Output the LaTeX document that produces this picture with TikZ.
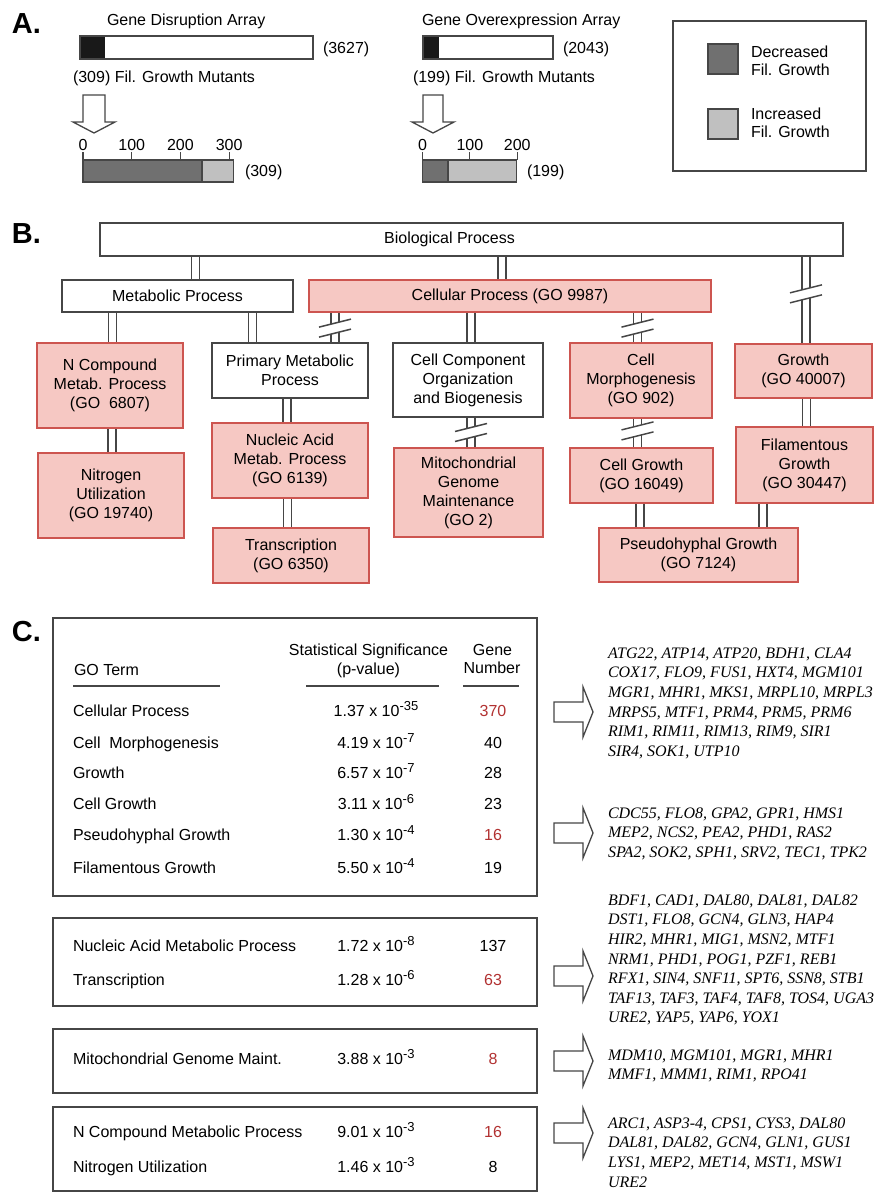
\documentclass[tikz,border=0pt]{standalone}
\usepackage{fontspec}
\setmainfont{Liberation Sans}
\newfontfamily\genefont{Liberation Serif}
\usetikzlibrary{calc,backgrounds}
\definecolor{pinkfill}{RGB}{246,200,195}
\definecolor{pinkline}{RGB}{205,85,80}
\definecolor{boxline}{RGB}{70,70,70}
\definecolor{darkbar}{RGB}{112,112,112}
\definecolor{lightbar}{RGB}{192,192,192}
\definecolor{rednum}{RGB}{178,50,50}
\definecolor{blackbar}{RGB}{25,25,25}
\newcommand\mysup[1]{\raisebox{6pt}{\fontsize{13}{13}\selectfont #1}}
\newcommand\golink[4]{%
  \coordinate (#4b) at ([xshift=#2]#1.north);
  \coordinate (#4t) at (#4b |- #3.south);
  \draw[dbl] (#4b) -- (#4t);}
\newcommand\gobreak[2]{\pic at ($(#1t)!#2!(#1b)$) {brk};}
\begin{document}
\begin{tikzpicture}[x=1pt,y=-1pt,
  every node/.style={inner sep=0pt, outer sep=0pt},
  font=\fontsize{16}{19}\selectfont,
  lbl/.style={anchor=base west, font=\fontsize{29}{29}\selectfont\bfseries},
  txt/.style={anchor=base west},
  num/.style={anchor=base},
  gobox/.style={draw=boxline, line width=1.5pt, fill=white, align=center},
  gopink/.style={gobox, draw=pinkline, fill=pinkfill},
  dbl/.style={draw=boxline, line width=1.6pt, double=white, double distance=6.6pt},
  barframe/.style={draw=boxline, line width=1.4pt},
  tbl/.style={draw=boxline, line width=1.6pt},
  gene/.style={anchor=north west, align=left, font=\genefont\itshape\fontsize{16}{19.6}\selectfont},
  brk/.pic={\fill[white] (-16,-1) -- (16,-9) -- (16,1) -- (-16,9) -- cycle;
            \draw[boxline, line width=1.5pt] (-16,-1) -- (16,-9) (-16,9) -- (16,1);},
  harrow/.pic={\draw[boxline, line width=1.3pt, fill=white] (0,-10) -- (29,-10) -- (29,-25) -- (39,0) -- (29,25) -- (29,10) -- (0,10) -- cycle;}
]
\begin{pgfonlayer}{background}
\fill[white] (0,0) rectangle (891,1194);
\end{pgfonlayer}
\useasboundingbox (0,0) rectangle (891,1194);

% ---------------- A ----------------
\node[lbl] (labA) at (12,33) {A.};
\node[txt] (t1) at (107,25) {Gene Disruption Array};
\fill[blackbar] (80,36) rectangle (105,59);
\draw[barframe] (80,36) rectangle (313,59);
\node[txt] (n1) at (323,53) {(3627)};
\node[txt] (m1) at (73,82) {(309) Fil. Growth Mutants};
\draw[boxline, line width=1.3pt, fill=white] (83,95) -- (83,122) -- (73,122) -- (94,133) -- (115,122) -- (105,122) -- (105,95) -- cycle;
\foreach \v/\nm in {0/a0,100/a1,200/a2,300/a3}{
  \draw[boxline, line width=1.2pt] ({83+0.487*\v},152) -- ({83+0.487*\v},160);
  \node[num] (\nm) at ({83+0.487*\v},150) {\v};}
\fill[darkbar] (83,160) rectangle (202,182);
\fill[lightbar] (202,160) rectangle (233.5,182);
\draw[barframe] (83,160) rectangle (233.5,182) (202,160) -- (202,182);
\node[txt] (s1) at (245,176.5) {(309)};

\node[txt] (t2) at (422,25) {Gene Overexpression Array};
\fill[blackbar] (423,36) rectangle (439,59);
\draw[barframe] (423,36) rectangle (553,59);
\node[txt] (n2) at (563,53) {(2043)};
\node[txt] (m2) at (413,82) {(199) Fil. Growth Mutants};
\draw[boxline, line width=1.3pt, fill=white] (423,95) -- (423,122) -- (412,122) -- (433,133) -- (454,122) -- (443,122) -- (443,95) -- cycle;
\foreach \v/\nm in {0/b0,100/b1,200/b2}{
  \draw[boxline, line width=1.2pt] ({422.5+0.4735*\v},152) -- ({422.5+0.4735*\v},160);
  \node[num] (\nm) at ({422.5+0.4735*\v},150) {\v};}
\fill[darkbar] (422.5,160) rectangle (448,182);
\fill[lightbar] (448,160) rectangle (516.7,182);
\draw[barframe] (422.5,160) rectangle (516.7,182) (448,160) -- (448,182);
\node[txt] (s2) at (527,176.5) {(199)};

\draw[barframe] (673,21) rectangle (866,171);
\draw[barframe, fill=darkbar] (708,44) rectangle (738,74);
\draw[barframe, fill=lightbar] (708,109) rectangle (738,139);
\node[anchor=west, align=left, font=\fontsize{16}{18}\selectfont] (leg1) at (751,61) {Decreased\\Fil. Growth};
\node[anchor=west, align=left, font=\fontsize{16}{18}\selectfont] (leg2) at (751,123) {Increased\\Fil. Growth};

% ---------------- B ----------------
\node[lbl] (labB) at (12,243) {B.};
\node[gobox, minimum width=743, minimum height=33] (bio) at (471.5,239.5) {Biological Process\hspace*{44pt}};
\node[gobox, minimum width=231, minimum height=32] (meta) at (177.5,296) {Metabolic Process};
\node[gopink, minimum width=402, minimum height=32] (cell) at (510,296) {Cellular Process (GO 9987)};
\node[gopink, minimum width=146, minimum height=85] (ncomp) at (110,385.5) {N Compound\\Metab. Process\\(GO\ \ 6807)};
\node[gopink, minimum width=146, minimum height=85] (nitro) at (111,495.5) {Nitrogen\\Utilization\\(GO 19740)};
\node[gobox, minimum width=156, minimum height=55] (prim) at (290,370.5) {Primary Metabolic\\Process};
\node[gopink, minimum width=156, minimum height=75] (nucl) at (290,460.5) {Nucleic Acid\\Metab. Process\\(GO 6139)};
\node[gopink, minimum width=156, minimum height=55] (trans) at (291,555.5) {Transcription\\(GO 6350)};
\node[gobox, minimum width=150, minimum height=74] (ccomp) at (468,380) {Cell Component\\Organization\\and Biogenesis};
\node[gopink, minimum width=149, minimum height=89] (mito) at (468.5,492.5) {Mitochondrial\\Genome\\Maintenance\\(GO 2)};
\node[gopink, minimum width=142, minimum height=75] (morph) at (641,380.5) {Cell\\Morphogenesis\\(GO 902)};
\node[gopink, minimum width=143, minimum height=55] (cgrow) at (641.5,475.5) {Cell Growth\\(GO 16049)};
\node[gopink, minimum width=137, minimum height=54] (grow) at (803.5,371) {Growth\\(GO 40007)};
\node[gopink, minimum width=137, minimum height=76] (fil) at (804.5,465) {Filamentous\\Growth\\(GO 30447)};
\node[gopink, minimum width=199, minimum height=54] (pseudo) at (698.5,555) {Pseudohyphal Growth\\(GO 7124)};

\begin{pgfonlayer}{background}
\golink{meta}{18}{bio}{k1}
\golink{cell}{-8}{bio}{k2}
\golink{grow}{2.5}{bio}{k3} \gobreak{k3}{0.43}
\golink{ncomp}{2.5}{meta}{k4}
\golink{prim}{-37.5}{meta}{k5}
\golink{prim}{45}{cell}{k6} \gobreak{k6}{0.52}
\golink{ccomp}{3}{cell}{k7}
\golink{morph}{-3.5}{cell}{k8} \gobreak{k8}{0.52}
\golink{nitro}{1}{ncomp}{k9}
\golink{nucl}{-3}{prim}{k10}
\golink{trans}{-3.5}{nucl}{k11}
\golink{mito}{2.5}{ccomp}{k12} \gobreak{k12}{0.5}
\golink{cgrow}{-4}{morph}{k13} \gobreak{k13}{0.43}
\golink{fil}{2}{grow}{k14}
\golink{pseudo}{-58.5}{cgrow}{k15}
\golink{pseudo}{64.5}{fil}{k16}
\end{pgfonlayer}

% ---------------- C ----------------
\node[lbl] (labC) at (12,641) {C.};
\node[tbl, minimum width=484, minimum height=278] (tb1) at (295,757) {};
\node[tbl, minimum width=484, minimum height=88] (tb2) at (295,962) {};
\node[tbl, minimum width=484, minimum height=64] (tb3) at (295,1061) {};
\node[tbl, minimum width=484, minimum height=84] (tb4) at (295,1149) {};

\node[txt] (hgo) at (74,675) {GO Term};
\node[num] (hst1) at (368.5,655) {Statistical Significance};
\node[num] (hst2) at (368.5,674) {(p-value)};
\node[num] (hgn1) at (492.5,655) {Gene};
\node[num] (hgn2) at (492,673.5) {Number};
\draw[boxline, line width=1.5pt] (73,686) -- (220,686) (306,686) -- (439,686) (463,686) -- (519,686);

\foreach \rowy/\rowt/\rowp/\rown/\rowc [count=\i] in {
  716.7/{Cellular Process}/{1.37 x 10\mysup{-35}}/370/rednum,
  748.2/{Cell\hspace{4.4pt} Morphogenesis}/{4.19 x 10\mysup{-7}}/40/black,
  778.7/{Growth}/{6.57 x 10\mysup{-7}}/28/black,
  809.2/{Cell Growth}/{3.11 x 10\mysup{-6}}/23/black,
  840.7/{Pseudohyphal Growth}/{1.30 x 10\mysup{-4}}/16/rednum,
  873.2/{Filamentous Growth}/{5.50 x 10\mysup{-4}}/19/black,
  951.7/{Nucleic Acid Metabolic Process}/{1.72 x 10\mysup{-8}}/137/black,
  985.7/{Transcription}/{1.28 x 10\mysup{-6}}/63/rednum,
  1064.7/{Mitochondrial Genome Maint.}/{3.88 x 10\mysup{-3}}/8/rednum,
  1137.7/{N Compound Metabolic Process}/{9.01 x 10\mysup{-3}}/16/rednum,
  1172.7/{Nitrogen Utilization}/{1.46 x 10\mysup{-3}}/8/black}{
  \node[txt] (rt\i) at (73,\rowy) {\rowt};
  \node[num] (rp\i) at (376,\rowy) {\rowp};
  \node[num, text=\rowc] (rn\i) at (493,\rowy) {\rown};
}

\pic at (554,712) {harrow};
\pic at (554,833) {harrow};
\pic at (554,976) {harrow};
\pic at (554,1061) {harrow};
\pic at (554,1133) {harrow};

\node[gene] (g1) at (608,647.6) {ATG22, ATP14, ATP20, BDH1, CLA4\\COX17, FLO9, FUS1, HXT4, MGM101\\MGR1, MHR1, MKS1, MRPL10, MRPL3\\MRPS5, MTF1, PRM4, PRM5, PRM6\\RIM1, RIM11, RIM13, RIM9, SIR1\\SIR4, SOK1, UTP10};
\node[gene] (g2) at (608,807.6) {CDC55, FLO8, GPA2, GPR1, HMS1\\MEP2, NCS2, PEA2, PHD1, RAS2\\SPA2, SOK2, SPH1, SRV2, TEC1, TPK2};
\node[gene] (g3) at (608,894.6) {BDF1, CAD1, DAL80, DAL81, DAL82\\DST1, FLO8, GCN4, GLN3, HAP4\\HIR2, MHR1, MIG1, MSN2, MTF1\\NRM1, PHD1, POG1, PZF1, REB1\\RFX1, SIN4, SNF11, SPT6, SSN8, STB1\\TAF13, TAF3, TAF4, TAF8, TOS4, UGA3\\URE2, YAP5, YAP6, YOX1};
\node[gene] (g4) at (608,1049.6) {MDM10, MGM101, MGR1, MHR1\\MMF1, MMM1, RIM1, RPO41};
\node[gene] (g5) at (608,1117.6) {ARC1, ASP3-4, CPS1, CYS3, DAL80\\DAL81, DAL82, GCN4, GLN1, GUS1\\LYS1, MEP2, MET14, MST1, MSW1\\URE2};
\end{tikzpicture}
\end{document}
